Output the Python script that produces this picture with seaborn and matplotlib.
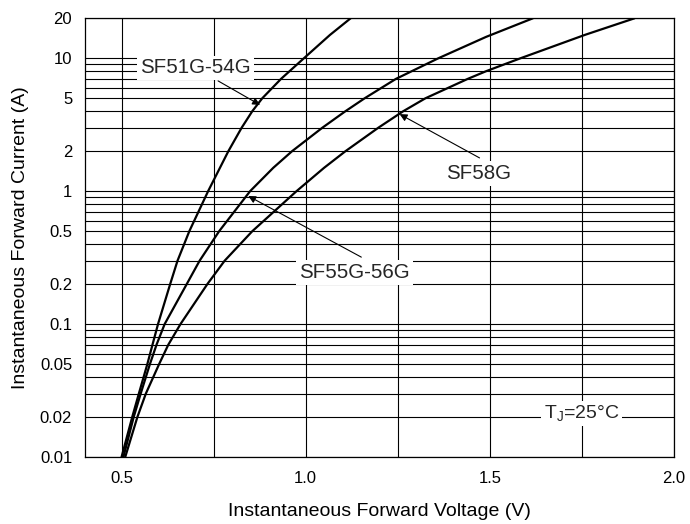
import numpy as np
import pandas as pd
import matplotlib
matplotlib.use("Agg")
import matplotlib.pyplot as plt
import matplotlib.ticker as mticker
import seaborn as sns

# forward characteristics (V, A)
v_51 = [0.500, 0.529, 0.547, 0.570, 0.584, 0.599, 0.632, 0.652, 0.684, 0.735, 0.790, 0.826, 0.855, 0.882,
        0.933, 0.995, 1.066, 1.122]
i_51 = [0.01, 0.02, 0.03, 0.05, 0.07, 0.1, 0.2, 0.3, 0.5, 1.0, 2.0, 3.0, 4.0, 5.0,
        7.0, 10.0, 15.0, 20.0]

v_55 = [0.505, 0.533, 0.552, 0.577, 0.595, 0.617, 0.677, 0.712, 0.765, 0.849, 0.912, 0.963, 1.045, 1.108,
        1.160, 1.245, 1.360, 1.490, 1.617]
i_55 = [0.01, 0.02, 0.03, 0.05, 0.07, 0.1, 0.2, 0.3, 0.5, 1.0, 1.5, 2.0, 3.0, 4.0,
        5.0, 7.0, 10.0, 14.5, 20.0]

v_58 = [0.510, 0.543, 0.566, 0.602, 0.627, 0.660, 0.733, 0.780, 0.855, 0.975, 1.050, 1.108, 1.197, 1.265,
        1.325, 1.440, 1.490, 1.583, 1.758, 1.893]
i_58 = [0.01, 0.02, 0.03, 0.05, 0.07, 0.1, 0.2, 0.3, 0.5, 1.0, 1.5, 2.0, 3.0, 4.0,
        5.0, 7.0, 8.0, 10.0, 15.0, 20.0]

x_ticks = [0.5, 1.0, 1.5, 2.0]
x_tick_labels = ["0.5", "1.0", "1.5", "2.0"]
x_minor = [0.75, 1.25, 1.75]
y_ticks = [0.01, 0.02, 0.05, 0.1, 0.2, 0.5, 1, 2, 5, 10, 20]
y_tick_labels = ["0.01", "0.02", "0.05", "0.1", "0.2", "0.5", "1", "2", "5", "10", "20"]

sns.set_theme(style="white")
plt.rcParams["font.family"] = ["Liberation Sans", "DejaVu Sans"]

fig = plt.figure(figsize=(6.9, 5.24), dpi=100)
ax = fig.add_axes([0.1228, 0.1279, 0.854, 0.8372])

for v, i in [(v_51, i_51), (v_55, i_55), (v_58, i_58)]:
    d = pd.DataFrame({"V": v, "I": i})
    sns.lineplot(data=d, x="V", y="I", sort=False, estimator=None,
                 color="black", lw=1.6, ax=ax, zorder=3)

ax.set_yscale("log")
ax.set_xlim(0.4, 2.0)
ax.set_ylim(0.01, 20)

ax.xaxis.set_major_locator(mticker.FixedLocator(x_ticks))
ax.xaxis.set_major_formatter(mticker.FixedFormatter(x_tick_labels))
ax.xaxis.set_minor_locator(mticker.FixedLocator(x_minor))
ax.yaxis.set_major_locator(mticker.FixedLocator(y_ticks))
ax.yaxis.set_major_formatter(mticker.FixedFormatter(y_tick_labels))
ax.yaxis.set_minor_locator(mticker.LogLocator(base=10, subs=np.arange(2, 10)))
ax.yaxis.set_minor_formatter(mticker.NullFormatter())

ax.grid(which="both", color="black", lw=0.8)
ax.set_axisbelow(True)
ax.tick_params(which="both", length=0, labelsize=12, colors="black")
ax.tick_params(axis="x", pad=10)
ax.tick_params(axis="y", pad=9)
for s in ax.spines.values():
    s.set_color("black")
    s.set_linewidth(0.9)

ax.set_xlabel("Instantaneous Forward Voltage (V)", fontsize=14, labelpad=12, color="black")
ax.set_ylabel("Instantaneous Forward Current (A)", fontsize=14, labelpad=8, color="black")

box = dict(facecolor="white", edgecolor="none", pad=2)
arrow = dict(arrowstyle="-|>", color="black", lw=0.8, mutation_scale=11, shrinkA=0, shrinkB=0)

ax.text(0.7005, 8.46, "SF51G-54G", fontsize=14.8, ha="center", va="center", bbox=box, zorder=5)
ax.annotate("", xy=(0.876, 4.46), xytext=(0.762, 6.76), arrowprops=arrow, zorder=5)

ax.text(1.470, 1.35, "SF58G", fontsize=14.8, ha="center", va="center", bbox=box, zorder=5)
ax.annotate("", xy=(1.255, 3.8), xytext=(1.472, 1.78), arrowprops=arrow, zorder=5)

ax.text(1.133, 0.244, "SF55G-56G", fontsize=14.8, ha="center", va="center", bbox=box, zorder=5)
ax.annotate("", xy=(0.844, 0.92), xytext=(1.151, 0.319), arrowprops=arrow, zorder=5)

ax.text(1.749, 0.0212, "T$_\\mathregular{J}$=25°C", fontsize=14, ha="center", va="center",
        bbox=box, zorder=5)

fig.savefig("out.png", dpi=100)
